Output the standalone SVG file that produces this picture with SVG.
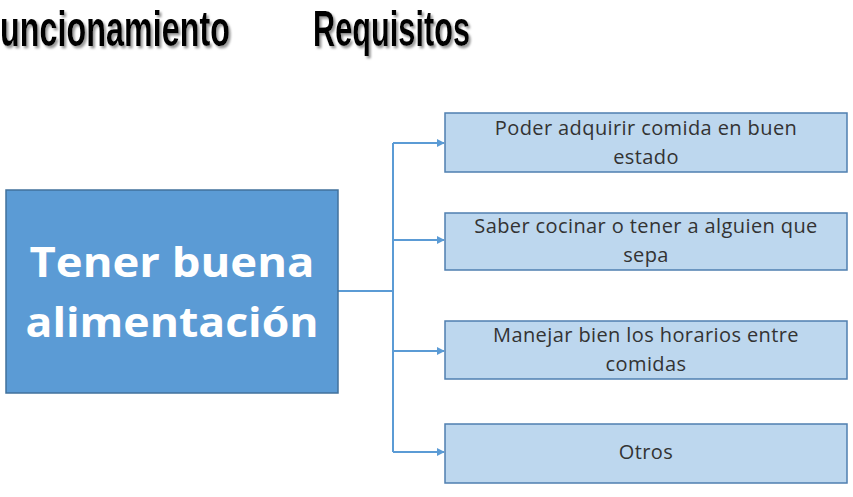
<svg xmlns="http://www.w3.org/2000/svg" width="853" height="497" viewBox="0 0 853 497">
<defs>
<style>
.title{font-family:"Liberation Sans",Arial,sans-serif;font-weight:bold;font-size:42px;fill:#000;filter:url(#shd);}
.main{fill:#5b9bd5;stroke:#41719c;stroke-width:1.5;}
.mainText{font-family:"Open Sans","Liberation Sans",Arial,sans-serif;font-weight:bold;font-size:42px;fill:#fff;text-anchor:middle;}
.req{fill:#bdd7ee;stroke:#4f7fb0;stroke-width:1.5;}
.reqText{font-family:"Open Sans","Liberation Sans",Arial,sans-serif;font-size:20px;letter-spacing:0.4px;fill:#333;text-anchor:middle;}
.conn{fill:none;stroke:#5b9bd5;stroke-width:2;}
</style>
<filter id="shd" x="-5%" y="-20%" width="115%" height="150%">
<feDropShadow dx="2" dy="2" stdDeviation="1" flood-color="#999" flood-opacity="1"/>
</filter>
<marker id="arr" viewBox="0 0 10 10" refX="9" refY="5" markerWidth="4" markerHeight="4" orient="auto">
<path d="M0,0 L10,5 L0,10 z" fill="#5b9bd5"/>
</marker>
</defs>
<rect width="853" height="497" fill="#fff"/>
<g id="titles">
<text class="title" transform="translate(0,46) scale(1,1.18)" x="0" y="0" textLength="230" lengthAdjust="spacingAndGlyphs">uncionamiento</text>
<text class="title" transform="translate(313,46) scale(1,1.18)" x="0" y="0" textLength="157" lengthAdjust="spacingAndGlyphs">Requisitos</text>
</g>
<g id="connectors">
<path class="conn" d="M338,291 H393"/>
<path class="conn" d="M393,143 V452"/>
<path class="conn" d="M393,143 H444" marker-end="url(#arr)"/>
<path class="conn" d="M393,240 H444" marker-end="url(#arr)"/>
<path class="conn" d="M393,351 H444" marker-end="url(#arr)"/>
<path class="conn" d="M393,452 H444" marker-end="url(#arr)"/>
</g>
<g id="node-main">
<rect class="main" x="6" y="190" width="332" height="203"/>
<text class="mainText" x="172" y="277" textLength="285" lengthAdjust="spacingAndGlyphs">Tener buena</text>
<text class="mainText" x="172" y="337" textLength="293" lengthAdjust="spacingAndGlyphs">alimentación</text>
</g>
<g id="node-req1">
<rect class="req" x="445" y="113" width="402" height="59"/>
<text class="reqText" x="646" y="135">Poder adquirir comida en buen</text>
<text class="reqText" x="646" y="164">estado</text>
</g>
<g id="node-req2">
<rect class="req" x="445" y="213" width="402" height="57"/>
<text class="reqText" x="646" y="233">Saber cocinar o tener a alguien que</text>
<text class="reqText" x="646" y="262">sepa</text>
</g>
<g id="node-req3">
<rect class="req" x="445" y="321" width="402" height="58"/>
<text class="reqText" x="646" y="342">Manejar bien los horarios entre</text>
<text class="reqText" x="646" y="371">comidas</text>
</g>
<g id="node-req4">
<rect class="req" x="445" y="424" width="402" height="59"/>
<text class="reqText" x="646" y="459">Otros</text>
</g>
</svg>
